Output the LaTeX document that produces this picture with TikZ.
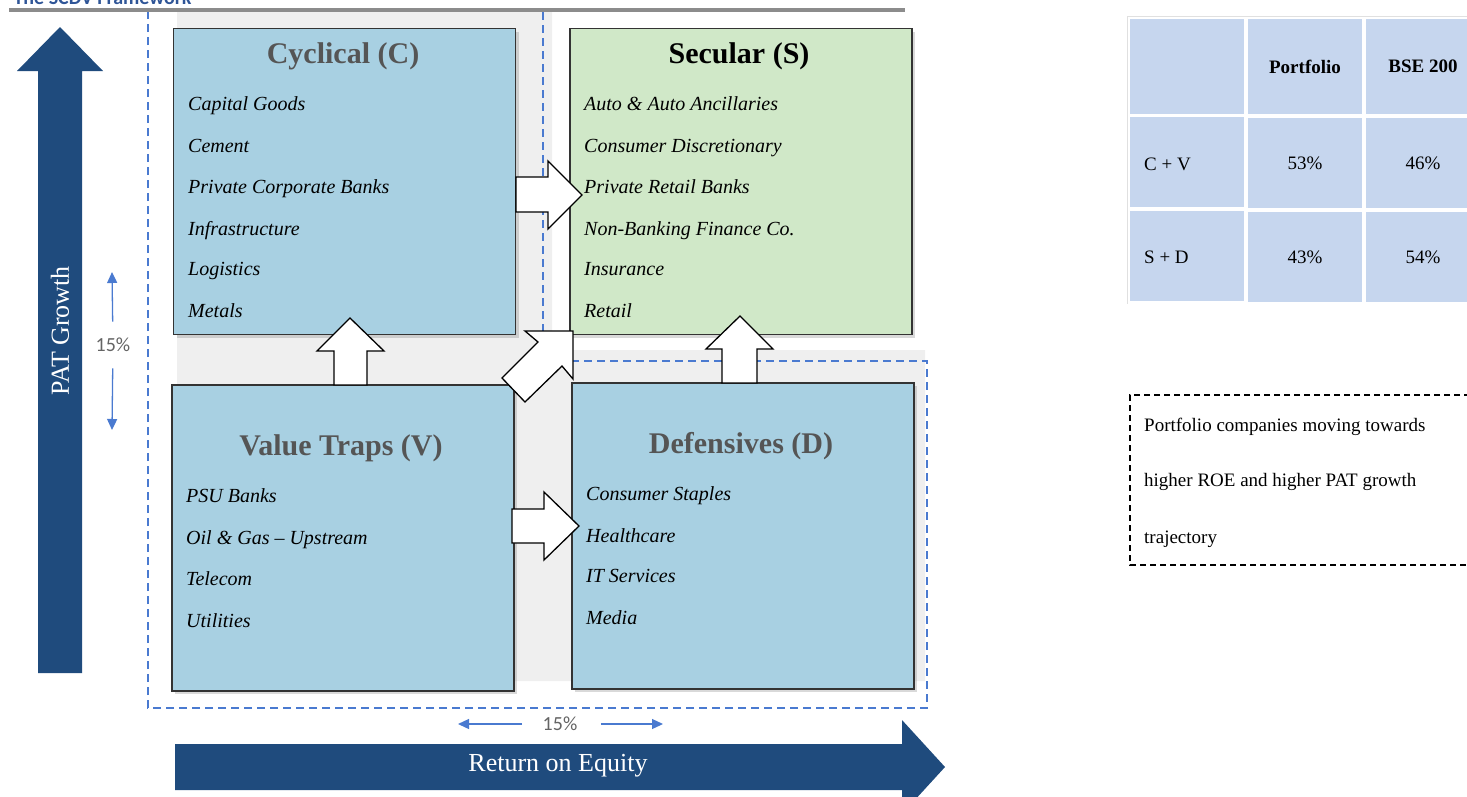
\documentclass[tikz,border=0pt]{standalone}
\usepackage{fontspec}
\setmainfont{Liberation Serif}
\newfontfamily\calib{Carlito}
\usetikzlibrary{arrows.meta,shadows}

\definecolor{navy}{RGB}{31,75,125}
\definecolor{boxblue}{RGB}{168,208,226}
\definecolor{boxgreen}{RGB}{208,232,200}
\definecolor{tblue}{RGB}{198,214,238}
\definecolor{bggray}{RGB}{239,239,239}
\definecolor{dashblue}{RGB}{74,122,208}
\definecolor{titlegray}{RGB}{85,85,85}
\definecolor{rulegray}{RGB}{140,140,140}
\definecolor{pctgray}{RGB}{100,100,100}
\definecolor{headblue}{RGB}{47,85,151}

\tikzset{
    catbox/.style={draw=black!80, line width=1.4pt, minimum width=342pt, minimum height=306pt,
        drop shadow={shadow xshift=3pt, shadow yshift=-3pt, opacity=0.3}},
    cattitle/.style={font=\fontsize{30}{36}\selectfont\bfseries, text=titlegray},
    item/.style={anchor=base west, inner sep=0pt, font=\fontsize{20}{24}\selectfont\itshape},
    blockarrow/.style={draw=black, fill=white, line width=1.3pt, line join=miter},
    axislabel/.style={text=white, font=\fontsize{26}{30}\selectfont},
    pct/.style={text=pctgray, font=\calib\fontsize{20}{24}\selectfont},
    pctarrow/.style={draw=dashblue, line width=1.3pt, -{Triangle[length=11pt,width=10pt]}},
    cell/.style={fill=tblue, minimum width=114pt, font=\fontsize{19}{23}\selectfont},
    celltext/.style={anchor=west, inner sep=0pt, font=\fontsize{19}{23}\selectfont},
    notetext/.style={anchor=base west, inner sep=0pt, font=\fontsize{19}{23}\selectfont}
}

\begin{document}
\begin{tikzpicture}[x=1pt,y=-1pt]
    \useasboundingbox (0,0) rectangle (1467,796);

    % Heading and rule
    \node[anchor=base west, text=headblue, font=\calib\bfseries\fontsize{20}{24}\selectfont] (heading) at (10,4) {The SCDV Framework};

    % Shaded area behind the quadrants
    \fill[bggray] (177,12) -- (552,12) -- (552,350) -- (925,350) -- (925,681) -- (177,681) -- cycle;
    \draw[rulegray, line width=3.5pt] (9,10) -- (905,10);

    % Dashed outline
    \draw[dashblue, line width=1.3pt, dash pattern=on 8pt off 5pt]
        (543,12) -- (543,361) -- (927,361) -- (927,708) -- (148,708) -- (148,12);

    % Axis arrows
    \fill[navy] (38,673) -- (38,71) -- (17,71) -- (60,27) -- (103,71) -- (82,71) -- (82,673) -- cycle;
    \fill[navy] (175,744) -- (902,744) -- (902,720) -- (945,767) -- (902,814) -- (902,790) -- (175,790) -- cycle;
    \node[axislabel, rotate=90] (patgrowth) at (60,331) {PAT Growth};
    \node[axislabel] (roe) at (558,766) {Return on Equity};

    % 15% markers
    \node[pct] (pctv) at (113,345) {15\%};
    \coordinate (pvtop) at (112,272);
    \coordinate (pvbot) at (112,430);
    \draw[pctarrow, shorten <=13pt] (pctv) -- (pvtop);
    \draw[pctarrow, shorten <=13pt] (pctv) -- (pvbot);
    \node[pct] (pcth) at (560,724) {15\%};
    \coordinate (phleft) at (458,724);
    \coordinate (phright) at (663,724);
    \draw[pctarrow, shorten <=17pt] (pcth) -- (phleft);
    \draw[pctarrow, shorten <=20pt] (pcth) -- (phright);

    % Quadrant boxes
    \node[catbox, fill=boxblue] (cyc) at (344.5,181.5) {};
    \node[catbox, fill=boxgreen] (sec) at (741,181.5) {};
    \node[catbox, fill=boxblue] (val) at (343,538) {};
    \node[catbox, fill=boxblue] (def) at (743,536) {};

    \node[cattitle] (cyctitle) at (343,56) {Cyclical (C)};
    \node[cattitle, text=black] (sectitle) at (739,56) {Secular (S)};
    \node[cattitle] (valtitle) at (341,448) {Value Traps (V)};
    \node[cattitle] (deftitle) at (741,446) {Defensives (D)};

    \node[item] (c1) at (188,110) {Capital Goods};
    \node[item] (c2) at (188,152) {Cement};
    \node[item] (c3) at (188,193) {Private Corporate Banks};
    \node[item] (c4) at (188,235) {Infrastructure};
    \node[item] (c5) at (188,275) {Logistics};
    \node[item] (c6) at (188,317) {Metals};

    \node[item] (s1) at (584,110) {Auto \& Auto Ancillaries};
    \node[item] (s2) at (584,152) {Consumer Discretionary};
    \node[item] (s3) at (584,193) {Private Retail Banks};
    \node[item] (s4) at (584,235) {Non-Banking Finance Co.};
    \node[item] (s5) at (584,275) {Insurance};
    \node[item] (s6) at (584,317) {Retail};

    \node[item] (v1) at (186,502) {PSU Banks};
    \node[item] (v2) at (186,544) {Oil \& Gas -- Upstream};
    \node[item] (v3) at (186,585) {Telecom};
    \node[item] (v4) at (186,627) {Utilities};

    \node[item] (d1) at (586,500) {Consumer Staples};
    \node[item] (d2) at (586,542) {Healthcare};
    \node[item] (d3) at (586,582) {IT Services};
    \node[item] (d4) at (586,624) {Media};

    % Block arrows between quadrants
    \draw[blockarrow] (516,177) -- (548,177) -- (548,161) -- (582,195) -- (548,229) -- (548,212) -- (516,212) -- cycle;
    \draw[blockarrow] (512,509) -- (544,509) -- (544,492) -- (579,526) -- (544,560) -- (544,543) -- (512,543) -- cycle;
    \draw[blockarrow] (334,385) -- (334,351) -- (317,351) -- (350,318) -- (384,351) -- (367,351) -- (367,385) -- cycle;
    \draw[blockarrow] (722,383) -- (722,349) -- (706,349) -- (740,316) -- (773,349) -- (757,349) -- (757,383) -- cycle;
    \draw[blockarrow] (573,331) -- (573,379) -- (562,366) -- (525,402) -- (502,378) -- (538,342) -- (525,331) -- cycle;

    % Table
    \draw[black!12, line width=0.8pt] (1127,304) -- (1127,16) -- (1467,16);
    \node[cell, minimum height=95pt] (t11) at (1187,66.5) {};
    \node[cell, minimum height=95pt, font=\fontsize{19}{23}\selectfont\bfseries] (t12) at (1305,66.5) {Portfolio};
    \node[cell, minimum height=95pt, font=\fontsize{19}{23}\selectfont\bfseries] (t13) at (1423,66.5) {BSE 200};
    \node[cell, minimum height=90pt] (t21) at (1187,162) {};
    \node[cell, minimum height=90pt] (t22) at (1305,163) {53\%};
    \node[cell, minimum height=90pt] (t23) at (1423,163) {46\%};
    \node[cell, minimum height=90pt] (t31) at (1187,256) {};
    \node[cell, minimum height=90pt] (t32) at (1305,257) {43\%};
    \node[cell, minimum height=90pt] (t33) at (1423,257) {54\%};
    \node[celltext] (cv) at (1144,164) {C + V};
    \node[celltext] (sd) at (1144,257) {S + D};

    % Note box
    \draw[black, line width=1.6pt, dash pattern=on 6pt off 4pt] (1480,395) -- (1130,395) -- (1130,565) -- (1480,565);
    \node[notetext] (n1) at (1144,431) {Portfolio companies moving towards};
    \node[notetext] (n2) at (1144,486) {higher ROE and higher PAT growth};
    \node[notetext] (n3) at (1144,543) {trajectory};
\end{tikzpicture}
\end{document}
